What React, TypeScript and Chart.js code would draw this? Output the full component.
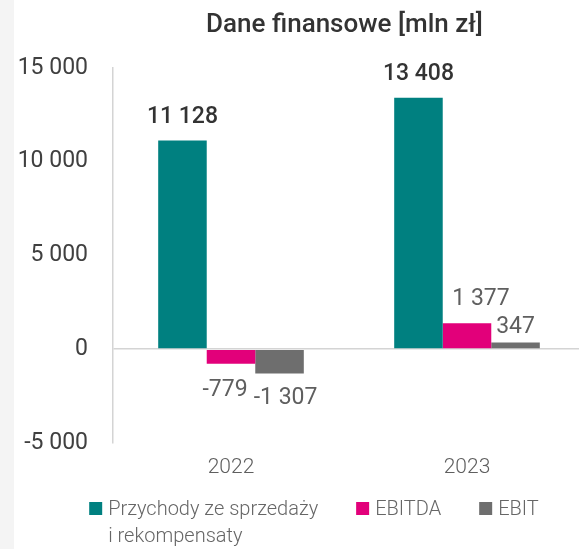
import React, { useEffect, useRef } from "react";
import { Chart, registerables } from "chart.js";

Chart.register(...registerables);

const TITLE = "Dane finansowe [mln zł]";
const CATEGORIES = ["2022", "2023"];
const SERIES_LABELS: (string | string[])[] = [
  ["Przychody ze sprzedaży", "i rekompensaty"],
  "EBITDA",
  "EBIT",
];
const REVENUE = [11128, 13408];
const EBITDA = [-779, 1377];
const EBIT = [-1307, 347];
const Y_TICKS = [-5000, 0, 5000, 10000, 15000];
const COLORS = ["#008080", "#e2007a", "#6e6e6e"];

const FONT = "Roboto, 'Noto Sans', sans-serif";

function fmt(v: number): string {
  const s = Math.abs(Math.round(v)).toString().replace(/\B(?=(\d{3})+(?!\d))/g, " ");
  return (v < 0 ? "-" : "") + s;
}

// small label nudges (dataset index -> category index -> [dx, dy]) to avoid overlaps
const NUDGE: Record<string, [number, number]> = {
  "1-0": [-6, 2],
  "2-0": [6, 0],
  "1-1": [14, 0],
  "2-1": [0, 8],
};

const titlePlugin = {
  id: "customTitle",
  afterDraw(chart: any) {
    const ctx = chart.ctx;
    ctx.save();
    ctx.font = `500 26px ${FONT}`;
    ctx.fillStyle = "#333333";
    ctx.textAlign = "center";
    ctx.textBaseline = "alphabetic";
    ctx.fillText(TITLE, 344.5, 31.5);
    ctx.restore();
  },
};

const valueLabelPlugin = {
  id: "valueLabels",
  afterDatasetsDraw(chart: any) {
    const ctx = chart.ctx;
    ctx.save();
    ctx.textAlign = "center";
    ctx.textBaseline = "alphabetic";
    chart.data.datasets.forEach((ds: any, di: number) => {
      const meta = chart.getDatasetMeta(di);
      meta.data.forEach((bar: any, i: number) => {
        const v = ds.data[i] as number;
        const n = NUDGE[`${di}-${i}`] || [0, 0];
        let cy: number;
        if (v >= 0) cy = bar.y - 26;
        else cy = bar.y + 22;
        if (di === 0) {
          ctx.font = `500 23px ${FONT}`;
          ctx.fillStyle = "#333333";
        } else {
          ctx.font = `400 23px ${FONT}`;
          ctx.fillStyle = "#5f5f5f";
        }
        ctx.fillText(fmt(v), bar.x + n[0], cy + n[1] + 8);
      });
    });
    ctx.restore();
  },
};

const legendPlugin = {
  id: "customLegend",
  afterDraw(chart: any) {
    const ctx = chart.ctx;
    ctx.save();
    ctx.font = `300 20px ${FONT}`;
    ctx.textBaseline = "alphabetic";
    ctx.textAlign = "left";
    const box = 13;
    const gapBox = 6;
    const gapItem = 38;
    const items = chart.data.datasets.map((ds: any) => {
      const lines = Array.isArray(ds.label) ? ds.label : [ds.label];
      const w = Math.max(...lines.map((l: string) => ctx.measureText(l).width));
      return { lines, w: box + gapBox + w, color: ds.backgroundColor };
    });
    const total = items.reduce((a: number, it: any) => a + it.w, 0) + gapItem * (items.length - 1);
    let x = 314 - total / 2;
    const base = 515;
    items.forEach((it: any) => {
      ctx.fillStyle = it.color;
      ctx.fillRect(x, 502, box, box);
      ctx.fillStyle = "#666666";
      it.lines.forEach((l: string, li: number) => {
        ctx.fillText(l, x + box + gapBox, base + li * 27);
      });
      x += it.w + gapItem;
    });
    ctx.restore();
  },
};

export default function App() {
  const ref = useRef<HTMLCanvasElement>(null);
  useEffect(() => {
    if (!ref.current) return;
    const chart = new Chart(ref.current, {
      type: "bar",
      data: {
        labels: CATEGORIES,
        datasets: [REVENUE, EBITDA, EBIT].map((d, i) => ({
          label: SERIES_LABELS[i] as any,
          data: d,
          backgroundColor: COLORS[i],
          borderWidth: 0,
          categoryPercentage: 0.617,
          barPercentage: 1,
        })),
      },
      options: {
        animation: false,
        responsive: false,
        maintainAspectRatio: false,
        layout: { padding: { top: 68, bottom: 57, left: 0, right: 15 } },
        plugins: {
          legend: { display: false },
          title: { display: false },
          tooltip: { enabled: false },
        },
        scales: {
          x: {
            grid: { display: false, drawTicks: false },
            border: { display: false },
            ticks: {
              padding: 12,
              color: "#5f5f5f",
              font: { family: FONT, size: 21, weight: 300 as any },
            },
          },
          y: {
            min: Y_TICKS[0],
            max: Y_TICKS[Y_TICKS.length - 1],
            afterFit(scale: any) {
              scale.width = 113;
            },
            afterBuildTicks(scale: any) {
              scale.ticks = Y_TICKS.map((v) => ({ value: v }));
            },
            grid: {
              drawTicks: false,
              color: (c: any) => (c.tick && c.tick.value === 0 ? "#d4d4d4" : "rgba(0,0,0,0)"),
              lineWidth: 1.6,
            },
            border: { display: true, color: "#d4d4d4", width: 1.5 },
            ticks: {
              padding: 25,
              color: "#404040",
              font: { family: FONT, size: 23, weight: 400 as any },
              callback: (v: any) => fmt(Number(v)),
            },
          },
        },
      },
      plugins: [titlePlugin, valueLabelPlugin, legendPlugin],
    });
    return () => chart.destroy();
  }, []);
  return (
    <div
      style={{
        position: "fixed",
        left: 0,
        top: 0,
        width: 579,
        height: 549,
        overflow: "hidden",
        background: "linear-gradient(to right, #f4f4f4 0px, #f4f4f4 14px, #ffffff 14px)",
      }}
    >
      <canvas ref={ref} width={600} height={549} style={{ display: "block", width: 600, height: 549 }} />
    </div>
  );
}
